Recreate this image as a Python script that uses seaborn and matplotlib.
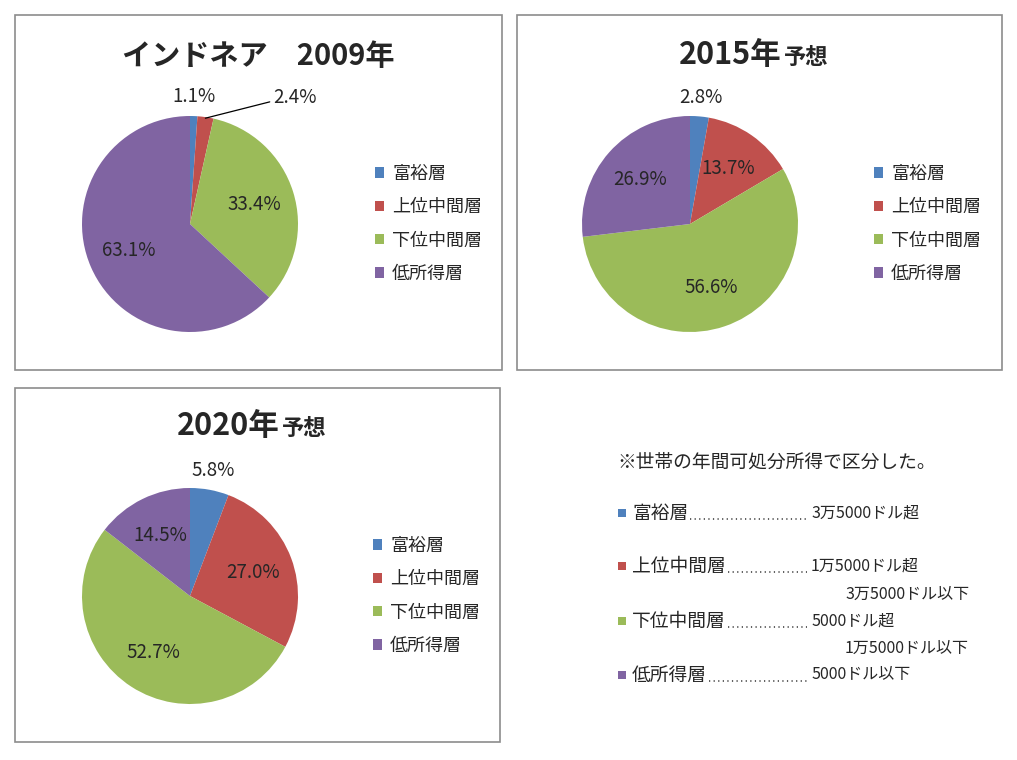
import numpy as np
import matplotlib
matplotlib.use("Agg")
import matplotlib.pyplot as plt
from matplotlib.patches import Rectangle
from matplotlib.lines import Line2D
import seaborn as sns

# ---- data ----
categories = ['富裕層', '上位中間層', '下位中間層', '低所得層']
share_2009 = [1.1, 2.4, 33.4, 63.1]
share_2015 = [2.8, 13.7, 56.6, 26.9]
share_2020 = [5.8, 27.0, 52.7, 14.5]
titles = [('インドネア　2009年', ''), ('2015年', '予想'), ('2020年', '予想')]
note_title = '※世帯の年間可処分所得で区分した。'
note_ranges = [['3万5000ドル超'],
               ['1万5000ドル超', '3万5000ドル以下'],
               ['5000ドル超', '1万5000ドル以下'],
               ['5000ドル以下']]

palette = sns.color_palette(['#4F81BD', '#C0504D', '#9BBB59', '#8064A2'])

sns.set_theme(style='white')
plt.rcParams['font.family'] = ['Noto Sans CJK JP', 'DejaVu Sans']

W, H = 1017, 760
fig = plt.figure(figsize=(W / 100, H / 100), dpi=100)
fig.patch.set_facecolor('white')


def fx(px):
    return px / W


def fy(py):
    return 1 - py / H


def panel_box(x0, y0, x1, y1):
    fig.add_artist(Rectangle((fx(x0), fy(y1)), fx(x1 - x0), (y1 - y0) / H,
                             transform=fig.transFigure, fill=False,
                             edgecolor='#8c8c8c', linewidth=1.2))


def draw_pie(values, cx, cy, legend_x, title, title_x, title_y):
    R = 108   # pie radius in px
    S = 160   # half size of axes in px
    ax = fig.add_axes([fx(cx - S), fy(cy + S), fx(2 * S), 2 * S / H])
    wedges, _ = ax.pie(values, colors=palette, startangle=90, counterclock=False,
                       radius=1, wedgeprops=dict(linewidth=0))
    L = S / R
    ax.set_xlim(-L, L)
    ax.set_ylim(-L, L)
    ax.set_aspect('equal')
    ax.axis('off')

    prev_small = False
    for w, v in zip(wedges, values):
        theta = np.deg2rad((w.theta1 + w.theta2) / 2)
        label = f'{v:.1f}%'
        if v < 7 and prev_small:
            tx = np.cos(theta) * 1.18 + 0.8
            ty = np.sin(theta) * 1.18
            ax.annotate(label, xy=(np.cos(theta) * 0.99, np.sin(theta) * 0.99),
                        xytext=(tx, ty), ha='center', va='center', fontsize=13.5,
                        arrowprops=dict(arrowstyle='-', color='black', lw=0.9,
                                        shrinkA=0, shrinkB=0, relpos=(0, 0.35)))
        elif v < 7:
            ax.text(np.cos(theta) * 1.18, np.sin(theta) * 1.18, label,
                    ha='center', va='center', fontsize=13.5)
        else:
            ax.text(np.cos(theta) * 0.62, np.sin(theta) * 0.62, label,
                    ha='center', va='center', fontsize=13.5)
        prev_small = v < 7

    ax.legend(wedges, categories, loc='center left',
              bbox_to_anchor=(fx(legend_x), fy(cy)),
              bbox_transform=fig.transFigure, frameon=False,
              fontsize=13, handlelength=0.5, handleheight=0.5,
              handletextpad=0.45, labelspacing=0.85, borderpad=0,
              borderaxespad=0)

    big, small = title
    if small:
        fig.text(fx(title_x), fy(title_y), big, ha='right', va='baseline',
                 fontsize=22, fontweight='bold')
        fig.text(fx(title_x + 2), fy(title_y), small, ha='left', va='baseline',
                 fontsize=16, fontweight='bold')
    else:
        fig.text(fx(title_x), fy(title_y), big, ha='center', va='baseline',
                 fontsize=21, fontweight='bold')
    return ax


panel_box(15, 15, 502, 370)
panel_box(517, 15, 1002, 370)
panel_box(15, 388, 500, 742)

draw_pie(share_2009, 190, 224, 375, titles[0], 258, 65)
draw_pie(share_2015, 690, 224, 874, titles[1], 782, 64)
draw_pie(share_2020, 190, 596, 373, titles[2], 280, 435)

# ---- note block ----
fig.text(fx(617), fy(462), note_title, ha='left', va='center', fontsize=13.5)

row_y = [[513], [566, 594], [621, 648], [675]]
label_objs = []
for i, cat in enumerate(categories):
    y = row_y[i][0]
    fig.add_artist(Rectangle((fx(618), fy(y + 4)), fx(8), 8 / H,
                             transform=fig.transFigure, color=palette[i], lw=0))
    t = fig.text(fx(632), fy(y), cat, ha='left', va='center', fontsize=13.5)
    label_objs.append((t, y))
    fig.text(fx(811), fy(y), note_ranges[i][0], ha='left', va='center', fontsize=11.5)
    if len(note_ranges[i]) > 1:
        fig.text(fx(845), fy(row_y[i][1]), note_ranges[i][1], ha='left',
                 va='center', fontsize=11.5)

fig.canvas.draw()
renderer = fig.canvas.get_renderer()
for t, y in label_objs:
    bb = t.get_window_extent(renderer)
    x_start = bb.x1 + 2
    fig.add_artist(Line2D([x_start / W, fx(807)], [fy(y + 6), fy(y + 6)],
                          transform=fig.transFigure, color='#333333',
                          linewidth=1.1, linestyle=(0, (0.8, 2.2))))

fig.savefig('out.png', dpi=100, facecolor='white')
